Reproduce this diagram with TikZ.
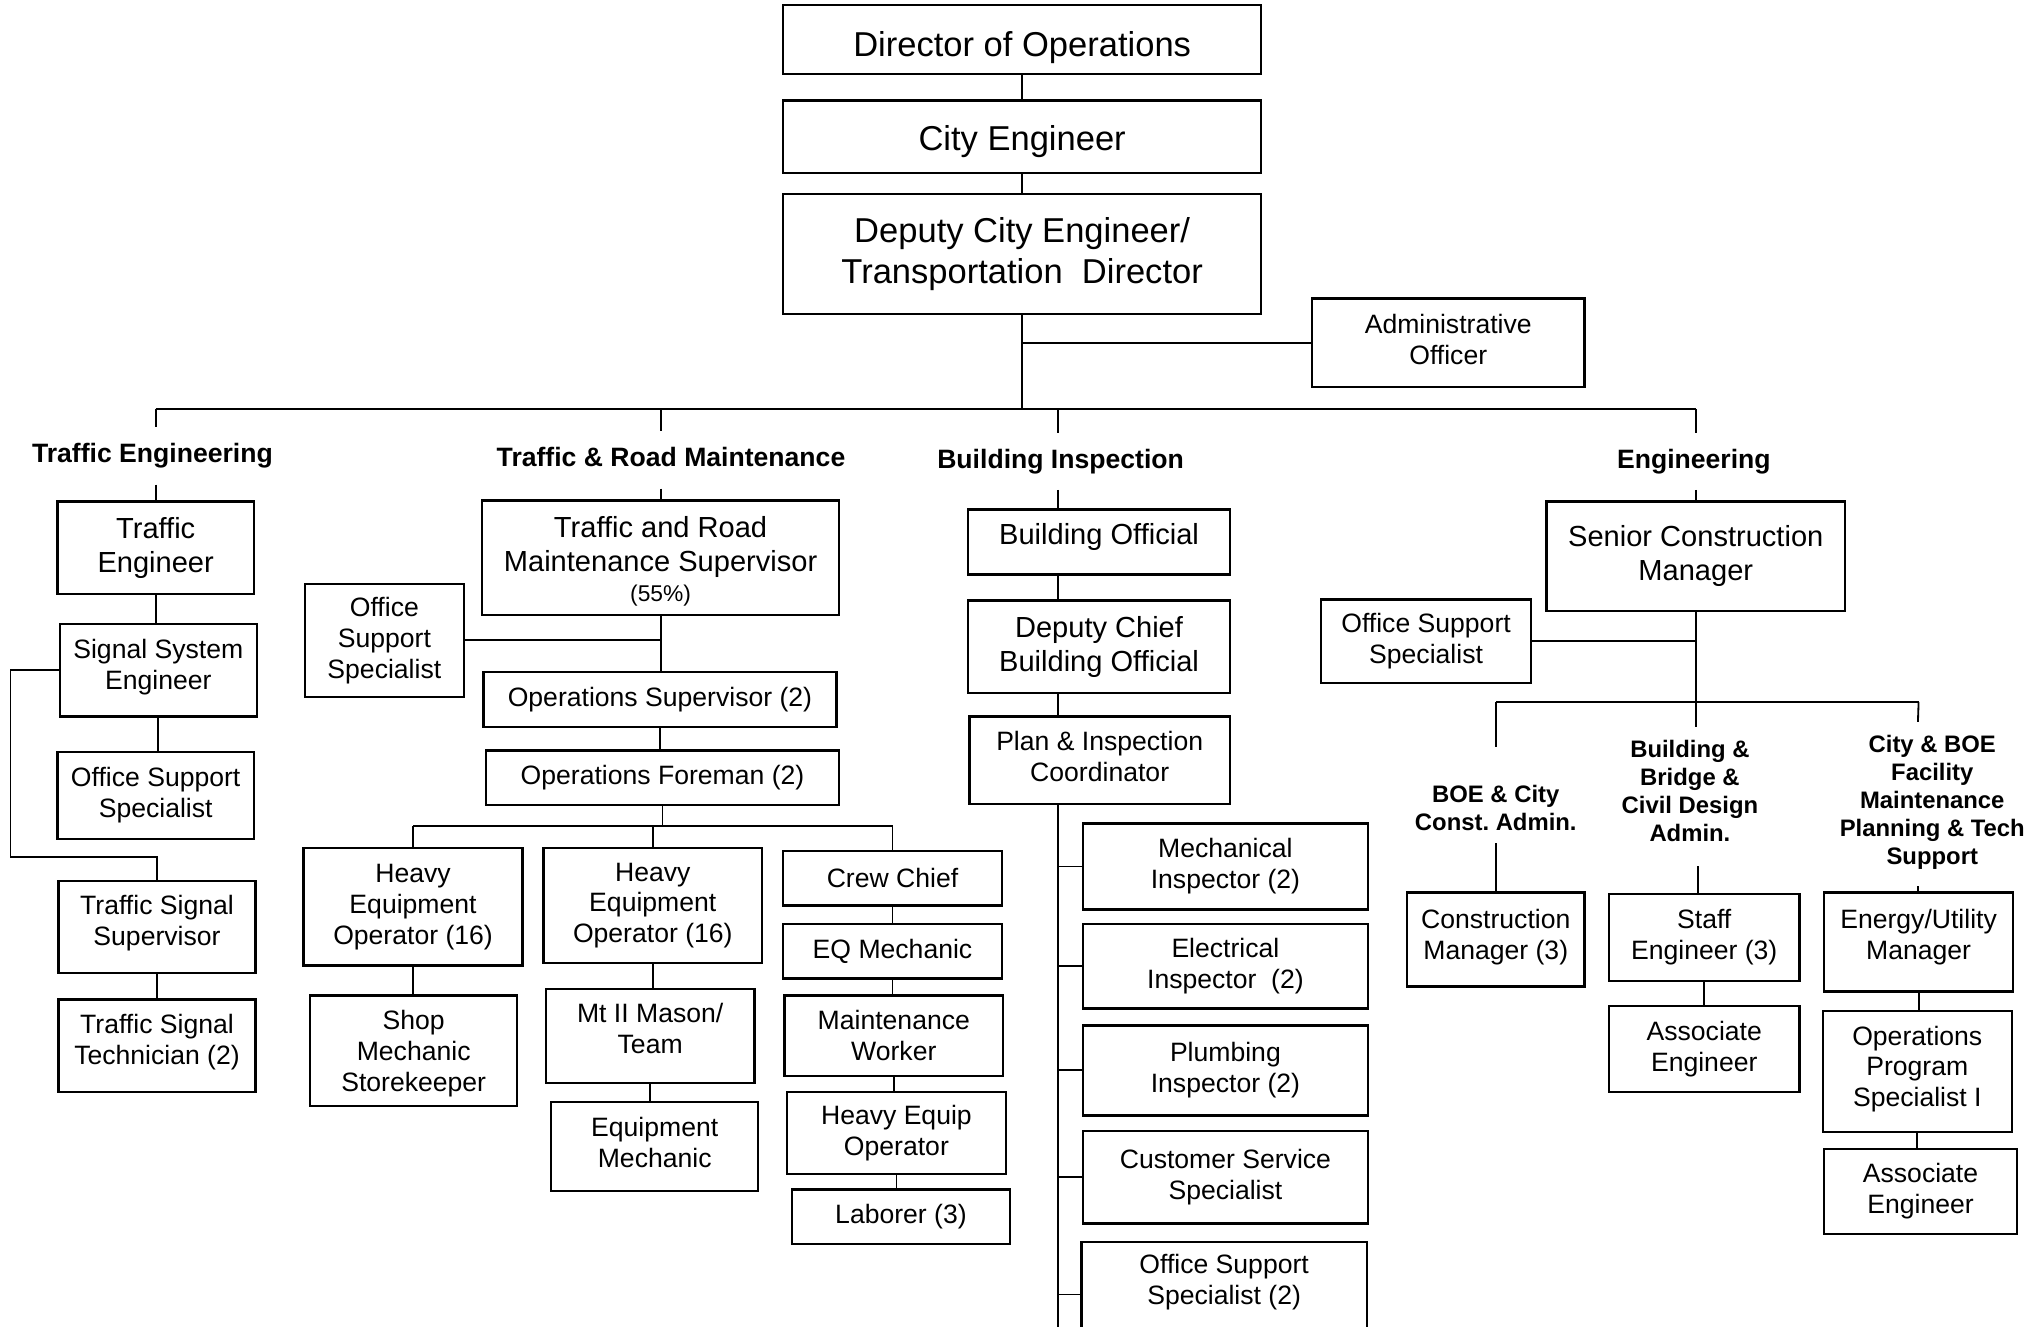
\documentclass[tikz,border=0pt]{standalone}
\usepackage{fontspec}
\setmainfont{Liberation Sans}
% \orgbox[style]{left}{top}{right}{bottom}{name}{text}
\newcommand{\orgbox}[7][]{%
  \node[box,#1,minimum width={(#4)-(#2)},minimum height={(#5)-(#3)}]
    (#6) at ({((#2)+(#4))/2},{((#3)+(#5))/2}) {#7};}
% a taller first line pushes a text block down inside its box
\newcommand{\tall}[1]{\rule{0pt}{#1pt}}
\begin{document}
\begin{tikzpicture}[x=1pt,y=-1pt,
  box/.style={draw,line width=1.8pt,inner sep=2pt,align=center},
  big/.style={font=\fontsize{26.5}{31}\selectfont},
  mid/.style={font=\fontsize{22.3}{26}\selectfont},
  sml/.style={font=\fontsize{20.4}{23.7}\selectfont},
  head/.style={font=\bfseries\fontsize{20.4}{24}\selectfont,inner xsep=0pt,
    inner ysep=12pt,text height=15pt,text depth=4.5pt},
  subhead/.style={font=\bfseries\fontsize{18.3}{21.5}\selectfont,align=center,inner sep=0pt},
  conn/.style={line width=1.4pt},
  bus/.style={line width=1.8pt},
]
\useasboundingbox (0,0) rectangle (1568,1018);
\fill[white] (0,0) rectangle (1568,1018);
\clip (0,0) rectangle (1568,1018);

% ---------- top of the hierarchy ----------
\orgbox[big,text height=26pt,text depth=0pt]{601}{4}{968}{57}{dir}{Director of Operations}
\orgbox[big,text height=21pt,text depth=0pt]{601}{77}{968}{133}{ce}{City Engineer}
\orgbox[big]{601}{149}{968}{241}{dce}{Deputy City Engineer/\\Transportation\ \ Director}
\orgbox[sml]{1007}{229}{1216}{297}{ao}{Administrative\\Officer\\[-18.7pt]\mbox{}}

% ---------- division headings ----------
\node[head] (h1) at (117,350) {Traffic Engineering};
\node[head] (h2) at (515,353) {Traffic \& Road Maintenance};
\node[head] (h3) at (814,354) {Building Inspection};
\node[head] (h4) at (1300,354) {Engineering};

% ---------- Traffic Engineering ----------
\orgbox[mid]{44}{385}{195}{456}{te}{Traffic\\Engineer}
\orgbox[sml]{46}{479}{197}{550}{sse}{Signal System\\Engineer\\[-14.4pt]\mbox{}}
\orgbox[sml]{44}{577}{195}{644}{tos}{Office Support\\Specialist}
\orgbox[sml]{45}{676}{196}{747}{tss}{Traffic Signal\\Supervisor\\[-13.4pt]\mbox{}}
\orgbox[sml]{45}{767}{196}{838}{tst}{Traffic Signal\\Technician (2)\\[-14.4pt]\mbox{}}

% ---------- Traffic & Road Maintenance ----------
\orgbox[mid]{370}{384}{644}{472}{trs}{\tall{21.3}Traffic and Road\\Maintenance Supervisor\\[-3pt]{\fontsize{17.5}{20}\selectfont(55\%)}}
\orgbox[sml]{234}{448}{356}{535}{tos2}{Office\\Support\\Specialist}
\orgbox[sml]{371}{516}{642}{558}{ops}{Operations Supervisor (2)}
\orgbox[sml]{373}{576}{644}{618}{opf}{Operations Foreman (2)}
\orgbox[sml]{233}{651}{401}{741}{heo1}{Heavy\\Equipment\\Operator (16)}
\orgbox[sml]{417}{651}{585}{739}{heo2}{Heavy\\Equipment\\Operator (16)}
\orgbox[sml]{601}{653}{769}{695}{crew}{Crew Chief}
\orgbox[sml]{238}{764}{397}{849}{smk}{\tall{18.9}Shop\\Mechanic\\Storekeeper}
\orgbox[sml]{419}{759}{579}{831}{mason}{Mt II Mason/\\Team\\[-12pt]\mbox{}}
\orgbox[sml]{423}{846}{582}{914}{eqm}{Equipment\\Mechanic\\[-17.7pt]\mbox{}}
\orgbox[sml]{601}{709}{769}{751}{eqmech}{EQ Mechanic}
\orgbox[sml]{602}{764}{770}{826}{mw}{Maintenance\\Worker}
\orgbox[sml]{604}{838}{772}{901}{heq}{Heavy Equip\\Operator}
\orgbox[sml]{608}{913}{775}{955}{lab}{Laborer (3)}

% ---------- Building Inspection ----------
\orgbox[mid]{743}{391}{944}{441}{bo}{Building Official\\[-14pt]\mbox{}}
\orgbox[mid]{743}{461}{944}{532}{dcbo}{Deputy Chief\\Building Official}
\orgbox[sml]{744}{550}{944}{617}{pic}{Plan \& Inspection\\Coordinator\\[-17.7pt]\mbox{}}
\orgbox[sml]{831}{632}{1050}{698}{mi}{Mechanical\\Inspector (2)}
\orgbox[sml]{831}{709}{1050}{774}{ei}{Electrical\\Inspector\ \ (2)}
\orgbox[sml]{831}{787}{1050}{856}{pi}{Plumbing\\Inspector (2)}
\orgbox[sml]{831}{868}{1050}{939}{css}{Customer Service\\Specialist}
\orgbox[sml]{830}{953}{1049}{1034}{osb}{Office Support\\Specialist (2)\\\mbox{}}

% ---------- Engineering ----------
\orgbox[mid]{1187}{385}{1416}{469}{scm}{Senior Construction\\Manager}
\orgbox[sml]{1014}{460}{1175}{524}{eos}{Office Support\\Specialist}
\node[subhead] (sh1) at (1148,620) {BOE \& City\\Const.\ Admin.};
\node[subhead] (sh2) at (1297,607) {Building \&\\Bridge \&\\Civil Design\\Admin.};
\node[subhead] (sh3) at (1483,615.5) {City \& BOE\\Facility\\Maintenance\\Planning \& Tech\\Support};
\orgbox[sml]{1080}{685}{1216}{757}{cm}{Construction\\Manager (3)\\[-15.4pt]\mbox{}}
\orgbox[sml]{1235}{686}{1381}{753}{se}{Staff\\Engineer (3)}
\orgbox[sml]{1235}{772}{1381}{838}{ae1}{Associate\\Engineer}
\orgbox[sml]{1400}{685}{1545}{761}{eum}{Energy/Utility\\Manager\\[-12pt]\mbox{}}
\orgbox[sml]{1399}{776}{1544}{869}{ops2}{Operations\\Program\\Specialist I\\[-15.4pt]\mbox{}}
\orgbox[sml]{1400}{882}{1548}{947}{ae2}{Associate\\Engineer}

% ---------- bus levels and connector ends ----------
\coordinate (busA) at (0,314);
\coordinate (busB) at (0,634);
\coordinate (busC) at (0,539);
\coordinate (bisp) at (812,314);
\coordinate (biend) at (812,1040);
\coordinate (loop) at (8,658);
\coordinate (d1a) at (1148,573);
\coordinate (d1b) at (1148,647);
\coordinate (d2a) at (1303,558);
\coordinate (d2b) at (1303,665);
\coordinate (d3a) at (1472,554);
\coordinate (d3b) at (1472,680);

% ---------- connectors: top ----------
\draw[conn] (dir.south) -- (ce.north);
\draw[conn] (ce.south) -- (dce.north);
\draw[bus] (dce.south) -- (dce.south |- busA);
\draw[conn] (dce.south |- ao.west) -- (ao.west);
\draw[bus] (te.north |- busA) -- (scm.north |- busA);

% drops to the divisions
\draw[conn] (te.north |- busA) -- (te.north |- h1.north);
\draw[conn] (te.north |- h1.south) -- (te.north);
\draw[conn] (trs.north |- busA) -- (trs.north |- h2.north);
\draw[conn] (trs.north |- h2.south) -- (trs.north);
\draw[conn] (bisp) -- (bisp |- h3.north);
\draw[conn] (bisp |- h3.south) -- (bisp |- bo.north);
\draw[conn] (scm.north |- busA) -- (scm.north |- h4.north);
\draw[conn] (scm.north |- h4.south) -- (scm.north);

% Traffic Engineering
\draw[conn] (te.south) -- (te.south |- sse.north);
\draw[conn] (sse.south) -- (sse.south |- tos.north);
\draw[conn] (sse.west) -| (loop) -| (tss.north);
\draw[conn] (tss.south) -- (tst.north);

% Traffic & Road Maintenance
\draw[conn] (trs.south) -- (trs.south |- ops.north);
\draw[conn] (tos2.east) -- (trs.south |- tos2.east);
\draw[conn] (ops.south) -- (ops.south |- opf.north);
\draw[conn] (opf.south) -- (opf.south |- busB);
\draw[conn] (heo1.north |- busB) -- (crew.north |- busB);
\foreach \n in {heo1,heo2,crew} \draw[conn] (\n.north |- busB) -- (\n.north);
\draw[conn] (heo1.south) -- (heo1.south |- smk.north);
\draw[conn] (heo2.south) -- (heo2.south |- mason.north);
\draw[conn] (mason.south) -- (mason.south |- eqm.north);
\draw[conn] (crew.south) -- (crew.south |- eqmech.north);
\draw[conn] (eqmech.south) -- (eqmech.south |- mw.north);
\draw[conn] (mw.south) -- (mw.south |- heq.north);
\draw[conn] (heq.south) -- (heq.south |- lab.north);

% Building Inspection
\draw[conn] (bisp |- bo.south) -- (bisp |- dcbo.north);
\draw[conn] (bisp |- dcbo.south) -- (bisp |- pic.north);
\draw[conn] (bisp |- pic.south) -- (biend);
\foreach \n in {mi,ei,pi,css,osb} \draw[conn] (bisp |- \n.west) -- (\n.west);

% Engineering
\draw[conn] (scm.south) -- (scm.south |- d2a);
\draw[conn] (eos.east) -- (scm.south |- eos.east);
\draw[conn] (cm.north |- busC) -- (eum.north |- busC);
\draw[conn] (cm.north |- busC) -- (d1a);
\draw[conn] (d1b) -- (cm.north);
\draw[conn] (d2b) -- (d2b |- se.north);
\draw[conn] (eum.north |- busC) -- (d3a);
\draw[conn] (d3b) -- (d3b |- eum.north);
\draw[conn] (se.south) -- (se.south |- ae1.north);
\draw[conn] (eum.south) -- (eum.south |- ops2.north);
\draw[conn] (ops2.south) -- (ops2.south |- ae2.north);
\end{tikzpicture}
\end{document}
